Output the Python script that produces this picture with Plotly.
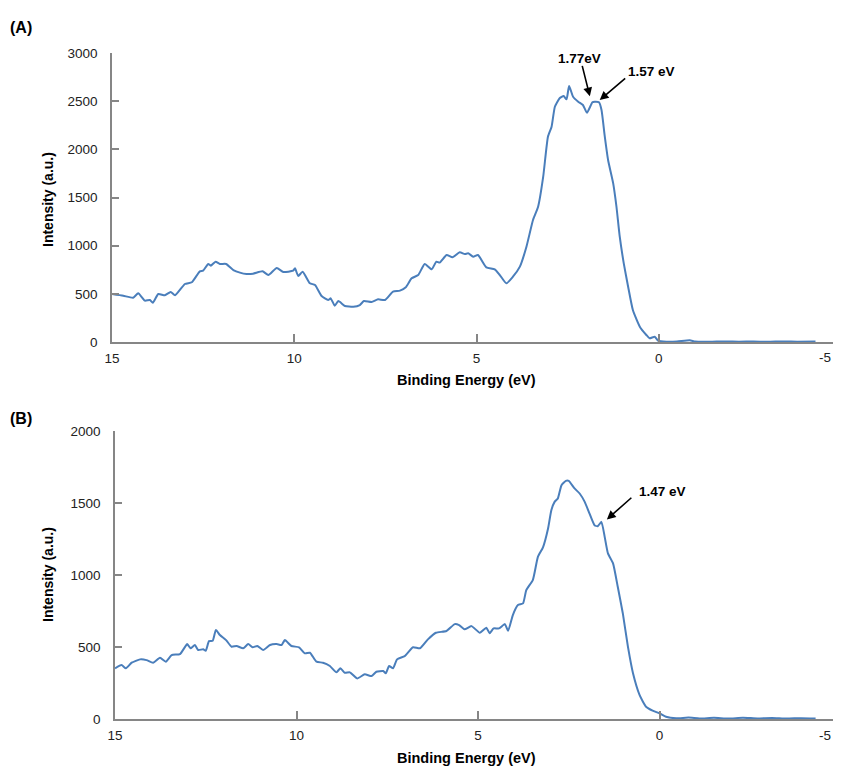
import plotly.graph_objects as go

# ---- Panel A data ----
energy_a = [15.0, 14.69, 14.42, 14.28, 14.10, 13.96, 13.88, 13.73, 13.55, 13.39, 13.27, 13.0, 12.81, 12.59, 12.5,
            12.36, 12.29, 12.16, 12.04, 11.87, 11.67, 11.49, 11.31, 11.13, 10.87, 10.71, 10.48, 10.30, 10.03, 9.98,
            9.89, 9.77, 9.57, 9.43, 9.25, 9.07, 9.0, 8.89, 8.79, 8.61, 8.38, 8.20, 8.09, 7.88, 7.70, 7.51, 7.29,
            7.10, 6.94, 6.78, 6.60, 6.42, 6.23, 6.10, 6.01, 5.82, 5.66, 5.46, 5.32, 5.23, 5.09, 4.96, 4.73, 4.50,
            4.36, 4.18, 4.0, 3.81, 3.63, 3.45, 3.31, 3.17, 3.04, 2.94, 2.85, 2.72, 2.61, 2.53, 2.46, 2.35, 2.21,
            2.08, 1.97, 1.82, 1.76, 1.64, 1.57, 1.48, 1.39, 1.25, 1.16, 1.07, 0.96, 0.84, 0.71, 0.52, 0.34, 0.25,
            0.11, 0.02, -0.21, -0.5, -0.85, -1.0, -1.4, -1.8, -2.2, -2.6, -3.0, -3.4, -3.8, -4.3]
intensity_a = [498, 480, 460, 505, 429, 436, 408, 498, 485, 519, 485, 602, 620, 734, 740,
               810, 792, 834, 810, 810, 747, 720, 706, 709, 734, 695, 768, 727, 740, 765,
               685, 730, 609, 592, 477, 436, 453, 377, 425, 374, 366, 384, 425, 415, 443, 436, 522,
               533, 568, 661, 695, 810, 755, 834, 824, 903, 879, 931, 913, 921, 886, 903, 775, 755,
               695, 609, 678, 782, 989, 1266, 1404, 1716, 2131, 2235, 2442, 2530, 2553, 2519, 2657, 2546, 2494,
               2460, 2380, 2488, 2494, 2488, 2408, 2131, 1889, 1647, 1404, 1093, 817, 574, 332, 159, 73, 38,
               55, 14, 3, 5, 18, 4, 2, 6, 3, 5, 2, 6, 3, 4]

# ---- Panel B data ----
energy_b = [15.0, 14.82, 14.70, 14.54, 14.31, 14.13, 13.95, 13.76, 13.60, 13.44, 13.21, 13.01, 12.92, 12.80, 12.71,
            12.57, 12.50, 12.41, 12.31, 12.22, 12.11, 11.94, 11.79, 11.65, 11.47, 11.33, 11.21, 11.08, 10.92, 10.73,
            10.55, 10.41, 10.32, 10.14, 9.93, 9.77, 9.63, 9.45, 9.27, 9.08, 8.90, 8.79, 8.67, 8.53, 8.33, 8.12,
            7.93, 7.80, 7.61, 7.54, 7.45, 7.34, 7.23, 7.02, 6.79, 6.60, 6.38, 6.16, 5.87, 5.64, 5.52, 5.37, 5.18,
            4.95, 4.77, 4.68, 4.57, 4.42, 4.26, 4.17, 4.04, 3.90, 3.76, 3.67, 3.49, 3.35, 3.21, 3.07, 2.98, 2.89,
            2.80, 2.70, 2.58, 2.50, 2.34, 2.20, 2.06, 1.93, 1.79, 1.70, 1.60, 1.51, 1.42, 1.28, 1.15, 1.01, 0.87,
            0.73, 0.55, 0.37, 0.19, 0.0, -0.18, -0.46, -0.8, -1.1, -1.5, -1.9, -2.3, -2.7, -3.1, -3.5, -3.9, -4.3]
intensity_b = [352, 375, 352, 391, 414, 409, 391, 425, 398, 444, 451, 520, 491, 514, 479,
               484, 474, 541, 543, 618, 583, 548, 502, 507, 491, 520, 498, 507, 479, 514,
               520, 514, 548, 507, 498, 456, 460, 398, 391, 368, 324, 352, 321, 324, 282, 310,
               298, 328, 333, 317, 368, 352, 414, 437, 498, 491, 553, 599, 611, 659, 652, 623, 645,
               599, 634, 595, 629, 629, 659, 613, 722, 791, 803, 895, 965, 1126, 1192, 1323, 1450, 1508,
               1532, 1624, 1654, 1654, 1601, 1566, 1508, 1428, 1346, 1339, 1369, 1265, 1150, 1081, 918, 733, 502,
               317, 167, 85, 58, 40, 16, 5, 10, 4, 8, 3, 9, 4, 7, 3, 6, 4]

x_ticks = [15, 10, 5, 0, -5]
x_ticktext = ["15", "10", "5", "0", ""]   # the edge label "-5" is drawn as a right-anchored text below
edge_label = "-5"
y_ticks_a = [0, 500, 1000, 1500, 2000, 2500, 3000]
y_ticks_b = [0, 500, 1000, 1500, 2000]

# page body has an 8px margin: work in page pixels and convert
OFF = 8
W, H = 841 - OFF, 767 - OFF
LINE = "#4A7EBB"
AXC = "#868686"
FONT = "Liberation Sans, Arial, sans-serif"


def px(p):
    return (p - OFF) / W


def py(p):
    return 1 - (p - OFF) / H


fig = go.Figure()
fig.add_trace(go.Scatter(x=energy_a, y=intensity_a, mode="lines", xaxis="x", yaxis="y",
                         line=dict(color=LINE, width=2, shape="spline", smoothing=0.5), showlegend=False))
fig.add_trace(go.Scatter(x=energy_b, y=intensity_b, mode="lines", xaxis="x2", yaxis="y2",
                         line=dict(color=LINE, width=2, shape="spline", smoothing=0.5), showlegend=False))

common_x = dict(showline=True, linecolor=AXC, linewidth=1.5, ticks="inside", ticklen=8, tickcolor=AXC,
                tickwidth=1.5, showgrid=False, zeroline=False, tickfont=dict(size=13.5, color="#222"),
                automargin=False, tickvals=x_ticks, ticktext=x_ticktext, ticklabelstandoff=3)
common_y = dict(showline=True, linecolor=AXC, linewidth=1.5, ticks="inside", ticklen=7, tickcolor=AXC,
                tickwidth=1.5, showgrid=False, zeroline=False, tickfont=dict(size=13.5, color="#222"),
                automargin=False, ticklabelstandoff=10)

fig.update_layout(
    width=W, height=H, margin=dict(l=0, r=0, t=0, b=0),
    paper_bgcolor="white", plot_bgcolor="white",
    font=dict(family=FONT, color="#000"),
    xaxis=dict(domain=[px(112), 1.0], range=[15, -5], anchor="y", **common_x),
    yaxis=dict(domain=[py(342), py(53)], range=[0, 3000], tickvals=y_ticks_a, anchor="x", **common_y),
    xaxis2=dict(domain=[px(115), 1.0], range=[15, -5], anchor="y2", **common_x),
    yaxis2=dict(domain=[py(719), py(431)], range=[0, 2000], tickvals=y_ticks_b, anchor="x2", **common_y),
)

ann = []
# panel labels
ann.append(dict(text="<b>(A)</b>", x=px(21), y=py(27), xref="paper", yref="paper", showarrow=False,
                font=dict(size=16), xanchor="center", yanchor="middle"))
ann.append(dict(text="<b>(B)</b>", x=px(21), y=py(418), xref="paper", yref="paper", showarrow=False,
                font=dict(size=16), xanchor="center", yanchor="middle"))
# edge tick label "-5"
for yc in (358, 735):
    ann.append(dict(text=edge_label, x=1.0, y=py(yc), xref="paper", yref="paper", showarrow=False,
                    font=dict(size=13.5, color="#222"), xanchor="right", yanchor="middle", xshift=-8))
# axis titles
for yc in (380, 758):
    ann.append(dict(text="<b>Binding Energy (eV)</b>", x=px(466), y=py(yc), xref="paper", yref="paper",
                    showarrow=False, font=dict(size=14.5), xanchor="center", yanchor="middle"))
for yc in (200, 575):
    ann.append(dict(text="<b>Intensity (a.u.)</b>", x=px(48), y=py(yc), xref="paper", yref="paper",
                    showarrow=False, font=dict(size=14), textangle=-90, xanchor="center", yanchor="middle"))

# peak markers (arrows)
arrow = dict(showarrow=True, arrowhead=2, arrowsize=1.1, arrowwidth=1.6, arrowcolor="#000", text="", standoff=0)
ann.append(dict(x=1.89, y=2550, xref="x", yref="y", ax=-8, ay=-32, **arrow))
ann.append(dict(x=1.62, y=2512, xref="x", yref="y", ax=27, ay=-23, **arrow))
ann.append(dict(x=1.45, y=1386, xref="x2", yref="y2", ax=26, ay=-23, **arrow))
ann.append(dict(text="<b>1.77eV</b>", x=2.17, y=2945, xref="x", yref="y", showarrow=False,
                font=dict(size=13.5), xanchor="center", yanchor="middle"))
ann.append(dict(text="<b>1.57 eV</b>", x=0.20, y=2806, xref="x", yref="y", showarrow=False,
                font=dict(size=13.5), xanchor="center", yanchor="middle"))
ann.append(dict(text="<b>1.47 eV</b>", x=-0.09, y=1577, xref="x2", yref="y2", showarrow=False,
                font=dict(size=13.5), xanchor="center", yanchor="middle"))
fig.update_layout(annotations=ann)

fig.write_html("out.html")
